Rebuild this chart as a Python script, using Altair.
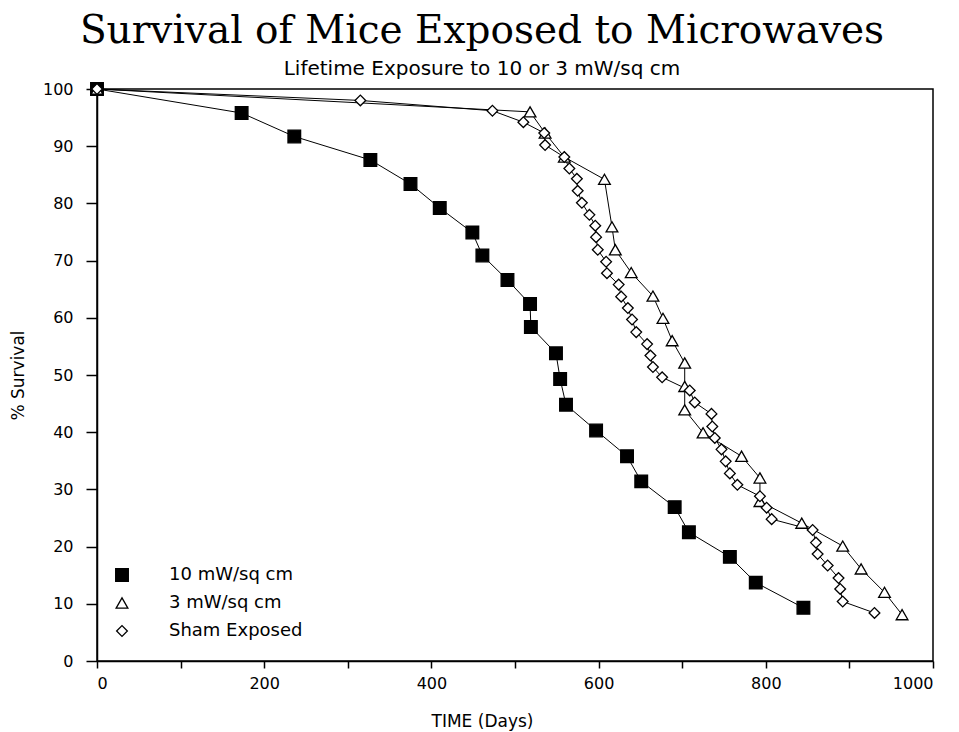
import altair as alt
import pandas as pd

series_names = ["10 mW/sq cm", "3 mW/sq cm", "Sham Exposed"]

mw10_days = [0, 173, 236, 327, 375, 410, 449, 461, 491, 518, 519, 549, 554, 561,
             597, 634, 651, 691, 708, 757, 788, 845]
mw10_pct = [100, 95.8, 91.7, 87.6, 83.4, 79.2, 74.9, 70.9, 66.6, 62.4, 58.4, 53.8,
            49.3, 44.8, 40.3, 35.8, 31.4, 26.9, 22.5, 18.2, 13.7, 9.3]

mw3_days = [0, 518, 536, 559, 607, 616, 620, 639, 665, 677, 688, 703, 703, 703,
            725, 771, 793, 793, 843, 892, 914, 942, 963]
mw3_pct = [100, 96.0, 92.3, 88.1, 84.2, 75.9, 71.9, 67.9, 63.8, 59.9, 56.0, 52.1,
           48.0, 43.9, 39.9, 35.8, 32.0, 27.9, 24.1, 20.1, 16.1, 12.0, 8.1]

sham_days = [0, 315, 473, 510, 535, 536, 559, 565, 574, 575, 580, 589, 596, 597,
             599, 609, 610, 624, 627, 635, 640, 645, 658, 662, 665, 676, 709, 715,
             735, 736, 739, 747, 752, 757, 766, 793, 801, 807, 856, 860, 862, 874,
             887, 889, 892, 930]
sham_pct = [100, 98.0, 96.2, 94.2, 92.3, 90.2, 88.1, 86.1, 84.3, 82.2, 80.1, 78.0,
            76.1, 74.1, 71.9, 69.8, 67.8, 65.8, 63.7, 61.7, 59.7, 57.5, 55.4, 53.4,
            51.4, 49.6, 47.3, 45.2, 43.2, 41.0, 39.0, 37.0, 34.9, 32.8, 30.8, 28.8,
            26.8, 24.8, 22.9, 20.7, 18.7, 16.7, 14.5, 12.6, 10.4, 8.4]

x_ticks = list(range(0, 1001, 100))
y_ticks = list(range(0, 101, 10))

rows = []
for name, days, pct in [(series_names[0], mw10_days, mw10_pct),
                        (series_names[1], mw3_days, mw3_pct),
                        (series_names[2], sham_days, sham_pct)]:
    for i, (d, p) in enumerate(zip(days, pct)):
        rows.append({"series": name, "grp": name, "day": d, "pct": p, "idx": i})
df = pd.DataFrame(rows)

x = alt.X("day:Q",
          scale=alt.Scale(domain=[0, 1000], nice=False, zero=False),
          axis=alt.Axis(values=x_ticks,
                        labelExpr="datum.value % 200 == 0 ? datum.label : ''",
                        title="TIME (Days)", tickSize=7, labelPadding=7,
                        titleX=385, titleY=60, titleAlign="center",
                        titleBaseline="middle", format="d"))
y = alt.Y("pct:Q",
          scale=alt.Scale(domain=[0, 100], nice=False),
          axis=alt.Axis(values=y_ticks, title="% Survival", tickSize=11,
                        labelPadding=13, titleX=-79, titleY=286,
                        titleAlign="center", titleBaseline="middle"))

legend_def = alt.Legend(
    orient="none", legendX=16, legendY=477, title=None,
    labelFont="DejaVu Sans", labelFontSize=18, labelColor="black",
    labelOffset=38, rowPadding=10, symbolSize=85, symbolStrokeWidth=1.3)

lines = alt.Chart(df).mark_line(color="black", strokeWidth=1).encode(
    x=x, y=y, detail="series:N", order="idx:Q")

points = alt.Chart(df).mark_point(filled=True, stroke="black", strokeWidth=1.3,
                                  opacity=1).encode(
    x=x, y=y,
    color=alt.Color("series:N",
                    scale=alt.Scale(domain=series_names,
                                    range=["black", "white", "white"]),
                    legend=legend_def),
    shape=alt.Shape("series:N",
                    scale=alt.Scale(domain=series_names,
                                    range=["square", "triangle-up", "diamond"]),
                    legend=legend_def),
    size=alt.Size("grp:N",
                  scale=alt.Scale(domain=series_names, range=[160, 115, 80]),
                  legend=None),
)

chart = alt.layer(lines, points).properties(
    width=836, height=572,
    autosize=alt.AutoSizeParams(type="none"),
    padding={"left": 89, "top": 81, "right": 18, "bottom": 70},
    title=alt.TitleParams(
        text="Survival of Mice Exposed to Microwaves",
        subtitle="Lifetime Exposure to 10 or 3 mW/sq cm",
        font="DejaVu Serif", fontSize=39, fontWeight="normal", color="black",
        subtitleFont="DejaVu Sans", subtitleFontSize=20, subtitleColor="black",
        anchor="middle", dx=-33, offset=1, subtitlePadding=8),
).configure_view(
    stroke="black", strokeWidth=1.5
).configure_axis(
    grid=False, domainColor="black", domainWidth=1.5, tickColor="black",
    tickWidth=1.5, labelColor="black", labelFont="DejaVu Sans",
    labelFontSize=16, titleFont="DejaVu Sans", titleFontSize=17,
    titleFontWeight="normal", titleColor="black"
).configure_legend(
    symbolStrokeColor="black"
)

chart.save("out.html", embed_options={"renderer": "svg", "actions": False})
